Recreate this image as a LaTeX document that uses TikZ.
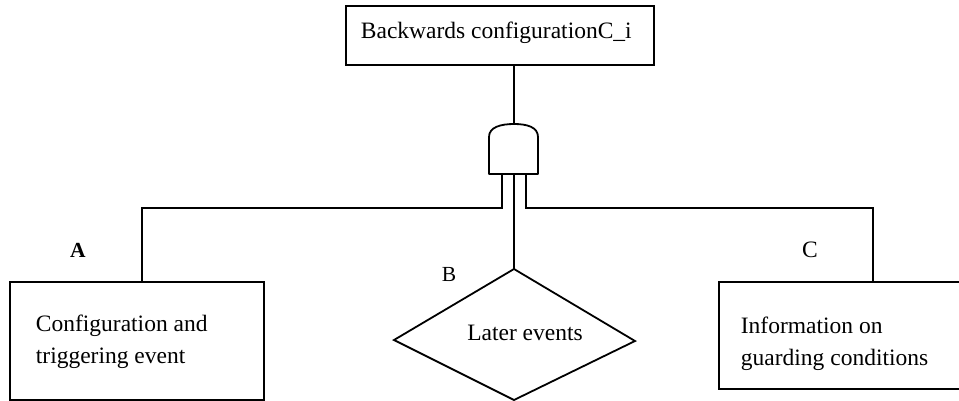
\documentclass[tikz,border=0pt]{standalone}
\usepackage{fontspec}
\setmainfont{Liberation Serif}
\begin{document}
\begin{tikzpicture}[
  x=1pt, y=-1pt,
  line width=1.8pt,
  box/.style={draw, rectangle, inner sep=0pt, anchor=north west},
  txt/.style={font=\fontsize{23.5}{32}\selectfont, inner sep=0pt, align=left},
  tagbold/.style={font=\fontsize{21.5}{24}\selectfont\bfseries, inner sep=0pt, anchor=base},
  tagplain/.style={font=\fontsize{21.5}{24}\selectfont, inner sep=0pt, anchor=base},
]
\useasboundingbox (0,0) rectangle (959,400);

% goal box at the top
\node[box, minimum width=308pt, minimum height=59pt] (goal) at (345,5) {};
\node[txt, anchor=base west] (goaltext) at (360,38) {Backwards configurationC\_i};
\coordinate (goalout) at (514,64);

% AND gate
\coordinate (gatetop) at (514,124);
\coordinate (legL) at (502,174);
\coordinate (legM) at (514,174);
\coordinate (legR) at (526,174);
\draw[line join=round] (489,174) -- (489,137)
  .. controls (489,127) and (501,124) .. (gatetop)
  .. controls (527,124) and (538,127) .. (538,137)
  -- (538,174) -- cycle;

% three input boxes (multi-line text is placed by its last baseline)
\node[box, minimum width=254pt, minimum height=118pt] (cfg) at (9,281) {};
\node[txt, anchor=base west] (cfgtext) at (35,363) {Configuration and\\triggering event};

\node[box, minimum width=260pt, minimum height=107pt] (info) at (718,281) {};
\node[txt, anchor=base west] (infotext) at (740,365) {Information on\\guarding conditions};

\coordinate (kt) at (514,269);
\coordinate (kr) at (635,341);
\coordinate (kb) at (514,400);
\coordinate (kl) at (394,340);
\draw[line join=miter] (kt) -- (kr) -- (kb) -- (kl) -- cycle;
\node[txt, anchor=base] (later) at (525,340) {Later events};

% branch labels
\node[tagbold] (labA) at (78,257) {A};
\node[tagplain] (labB) at (449,281) {B};
\node[txt, anchor=base] (labC) at (810,257) {C};

% connectors
\coordinate (cfgin) at (142,281);
\coordinate (infoin) at (873,281);
\draw (goalout) -- (gatetop);
\draw (legL) -- ++(0,34) -| (cfgin);
\draw (legM) -- (kt);
\draw (legR) -- ++(0,34) -| (infoin);
\end{tikzpicture}
\end{document}
